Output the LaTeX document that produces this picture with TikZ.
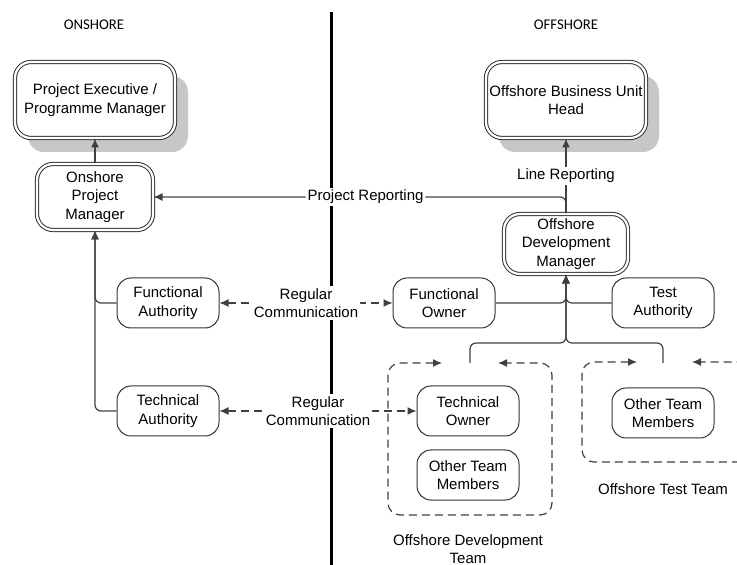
\documentclass[tikz,border=0pt]{standalone}
\usepackage{fontspec}
\setmainfont{Liberation Sans}
\newfontfamily\headfont{Carlito}
\usetikzlibrary{arrows.meta,shadows}

\tikzset{
    unit/.style={draw=black!80, line width=0.5pt, rounded corners=7pt, align=center, fill=white, inner sep=0pt, minimum width=51pt, minimum height=25pt},
    mgr/.style={unit, double, double distance=1.1pt, rounded corners=8pt},
    shade/.style={drop shadow={shadow xshift=6.5pt, shadow yshift=-7pt, fill=black!22, opacity=1}},
    link/.style={draw=black!75, line width=0.6pt, rounded corners=3pt},
    tip/.style={-{Latex[length=4.5pt,width=4pt]}},
    talk/.style={link, dash pattern=on 4pt off 2.5pt, {Latex[length=4.5pt,width=4pt]}-{Latex[length=4.5pt,width=4pt]}},
    lbl/.style={fill=white, inner sep=1pt, align=center},
    side/.style={font=\headfont\fontsize{7.4}{8}\selectfont},
}

\begin{document}
\begin{tikzpicture}[x=0.5pt, y=-0.5pt, font=\fontsize{7.5}{9.3}\selectfont]
            \useasboundingbox (0,0) rectangle (737,565);
            \draw[line width=1.5pt] (331,12) -- (331,565);

            \node[side] (onshore) at (94,25) {ONSHORE};
            \node[side] (offshore) at (566,25) {OFFSHORE};

            \node[mgr, shade, minimum width=80pt, minimum height=38pt] (PE) at (95,100) {Project Executive /\\Programme Manager};
            \node[mgr, minimum width=58pt, minimum height=33pt] (OPM) at (95,197) {Onshore\\Project\\Manager};
            \node[unit] (FA) at (168,303) {Functional\\Authority};
            \node[unit] (TA) at (168,411) {Technical\\Authority};

            \node[mgr, shade, minimum width=80pt, minimum height=38pt] (OBUH) at (566,100) {Offshore Business Unit\\Head};
            \node[mgr, minimum width=62pt, minimum height=30pt] (ODM) at (566,244) {Offshore\\Development\\Manager};
            \node[unit] (FO) at (444,303) {Functional\\Owner};
            \node[unit] (TstA) at (663,303) {Test\\Authority};
            \node[unit] (TO) at (468,411) {Technical\\Owner};
            \node[unit] (devOTM) at (468,475) {Other Team\\Members};
            \node[unit] (tstOTM) at (663,413) {Other Team\\Members};

            \node (devteam) at (468,549) [align=center] {Offshore Development\\Team};
            \node (tstteam) at (663,489) {Offshore Test Team};

            \coordinate (hub) at (566,343);
            \coordinate (devtop) at (470,363); \coordinate (tsttop) at (663,363);
            \coordinate (devin1) at (442,363); \coordinate (devin2) at (498,363);
            \coordinate (tstin1) at (637,362); \coordinate (tstin2) at (692,362);

            \draw[link,tip] (OPM) to (PE); \draw[link,tip] (FA.west) -| (OPM.south); \draw[link,tip] (TA.west) -| (OPM.south);
            \draw[link,tip] (ODM.north) to node[lbl] {Line Reporting} (OBUH.south);
            \draw[link,tip] (ODM.north) |- node[lbl, pos=0.743] {Project Reporting} (OPM.east);
            \draw[link,tip] (FO.east) -| (ODM.south); \draw[link,tip] (TstA.west) -| (ODM.south);
            \draw[link,tip] (devtop) |- (hub) -- (ODM.south); \draw[link,tip] (tsttop) |- (hub) -- (ODM.south);
            \draw[talk] (FA.east) to node[lbl] {Regular\\Communication} (FO.west);
            \draw[talk] (TA.east) to node[lbl] {Regular\\Communication} (TO.west);
            \draw[talk, rounded corners=6pt] (devin1) -| (388,515) -| (552,363) -- (devin2);
            \draw[talk, rounded corners=6pt] (tstin1) -| (582,462) -| (752,362) -- (tstin2);
        \end{tikzpicture}
\end{document}
